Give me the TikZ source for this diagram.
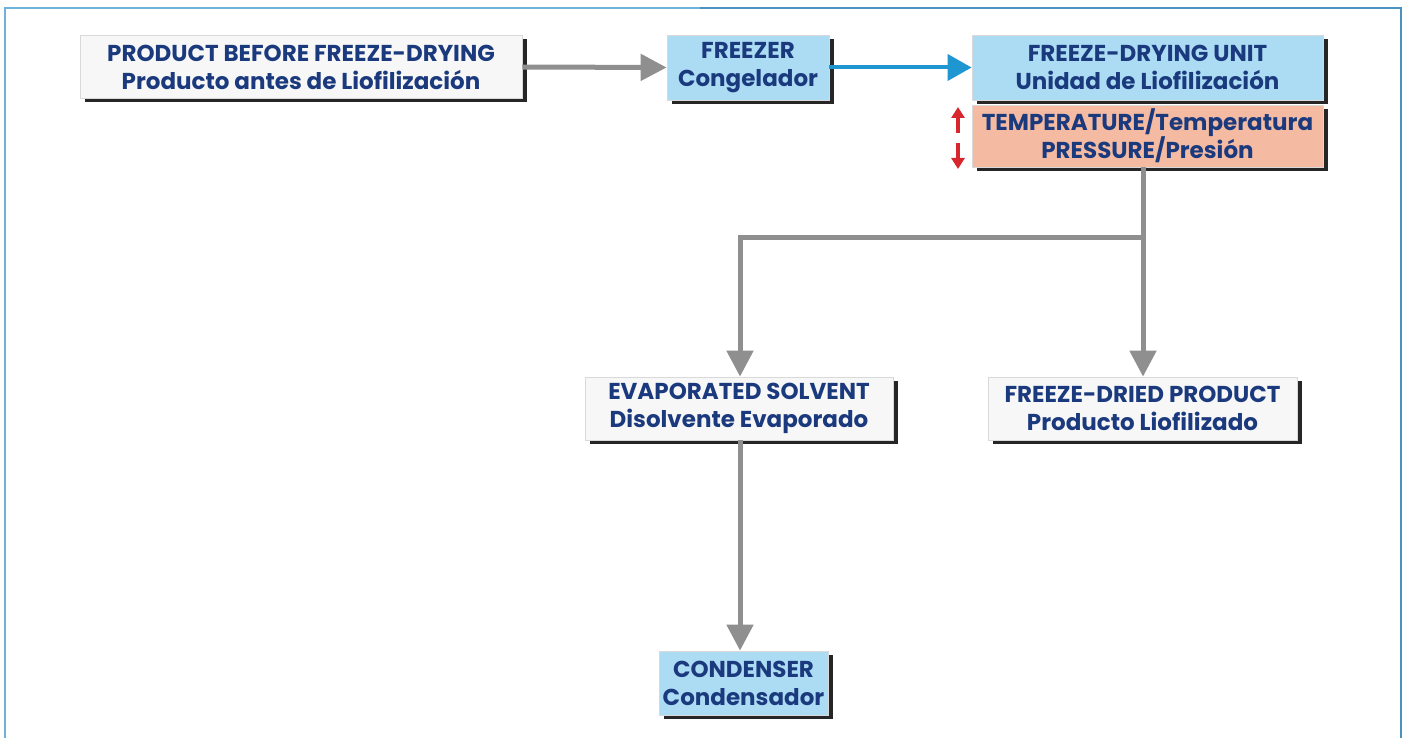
\documentclass[tikz,border=0pt]{standalone}
\usepackage{fontspec}
\setmainfont{Poppins}
\usetikzlibrary{arrows.meta,shadows}
\definecolor{txt}{HTML}{1B3A7E}
\definecolor{lblue}{HTML}{ABDCF4}
\definecolor{salmon}{HTML}{F4BBA2}
\definecolor{wbox}{HTML}{F7F7F7}
\definecolor{conn}{HTML}{8F8F8F}
\definecolor{bconn}{HTML}{1E96D2}
\definecolor{frameL}{HTML}{6DB3DC}
\definecolor{frameR}{HTML}{2A6EA6}
\definecolor{redar}{HTML}{D8262E}
\begin{document}
\begin{tikzpicture}[x=1pt,y=-1pt,
  box/.style={draw=black!15,line width=0.8pt,minimum height=63pt,inner sep=0pt,align=center,
    font=\fontsize{23}{28}\selectfont\bfseries,text=txt,
    drop shadow={shadow xshift=5pt,shadow yshift=-4pt,fill=black!85,opacity=1}},
  wb/.style={box,fill=wbox},
  bb/.style={box,fill=lblue},
  sb/.style={box,fill=salmon},
  garrow/.style={draw=conn,line width=5pt,-{Triangle[length=26pt,width=26pt]}},
  gline/.style={draw=conn,line width=5pt},
  barrow/.style={draw=bconn,line width=4pt,-{Triangle[length=24pt,width=26pt]}},
  rarrow/.style={draw=redar,line width=3.5pt,-{Triangle[length=11pt,width=13pt]}}
]
\useasboundingbox (0,0) rectangle (1407,738);
\fill[white] (0,0) rectangle (1407,738);
\draw[frameL,line width=2.5pt] (5,738) -- (5,8) -- (700,8);
\draw[frameL!50!frameR,line width=2.5pt] (700,8) -- (1401,8) -- (1401,738);

\node[wb,minimum width=442pt] (prod) at (301,67) {PRODUCT BEFORE FREEZE-DRYING\\Producto antes de Liofilización};
\node[bb,minimum width=162pt,minimum height=65pt] (frz) at (748,67.5) {FREEZER\\Congelador};
\node[bb,minimum width=351pt,minimum height=65pt] (fdu) at (1147.5,67.5) {FREEZE-DRYING UNIT\\Unidad de Liofilización};
\node[sb,minimum width=351pt,minimum height=62pt] (tp) at (1147.5,136) {TEMPERATURE/Temperatura\\PRESSURE/Presión};
\node[wb,minimum width=308pt] (evap) at (739,408.5) {EVAPORATED SOLVENT\\Disolvente Evaporado};
\node[wb,minimum width=309pt] (fdp) at (1142.5,408.5) {FREEZE-DRIED PRODUCT\\Producto Liofilizado};
\node[bb,minimum width=169pt,minimum height=64pt] (cond) at (743.5,683) {CONDENSER\\Condensador};

\coordinate (up1) at (958,133);
\coordinate (up2) at (958,107);
\coordinate (dn1) at (958,143);
\coordinate (dn2) at (958,169);
\draw[rarrow] (up1) -- (up2);
\draw[rarrow] (dn1) -- (dn2);

\draw[garrow] (prod.east) -- (frz.west);
\draw[barrow] (frz.east) -- (fdu.west);

\coordinate (j) at (1143,237);
\coordinate (jl) at (740,237);
\draw[gline] (tp.south -| j) -- (j);
\draw[garrow] (j) -- (j |- fdp.north);
\draw[garrow,line join=miter] (j) -- (jl) -- (jl |- evap.north);
\draw[garrow] (evap.south -| jl) -- (jl |- cond.north);
\end{tikzpicture}
\end{document}
